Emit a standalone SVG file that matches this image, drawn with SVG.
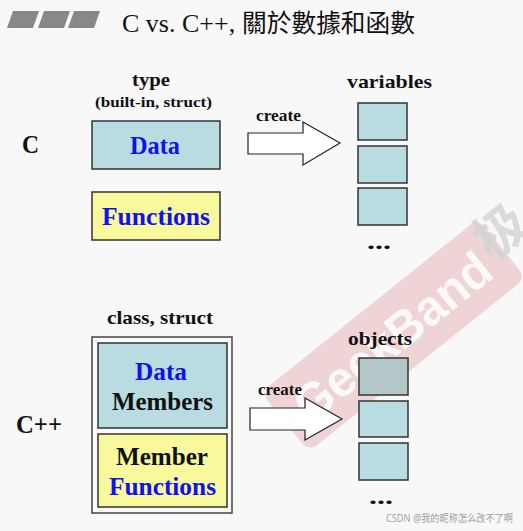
<svg xmlns="http://www.w3.org/2000/svg" width="523" height="531" viewBox="0 0 523 531">
  <style>
    .t { font-family: "Liberation Serif", "Times New Roman", serif; font-weight: bold; fill: #111; }
    .blue { fill: #1010f0; }
    .teal { fill: #b8dce0; stroke: #333; stroke-width: 1.5; }
    .yel { fill: #f8f89c; stroke: #333; stroke-width: 1.5; }
    .arrow { fill: #ffffff; stroke: #222; stroke-width: 1.2; stroke-linejoin: miter; }
    .bar { fill: #888888; }
  </style>
  <rect width="523" height="531" fill="#f8f8f8"/>

  <g id="title">
    <polygon class="bar" points="13,11 39,11 33,28 7,28"/>
    <polygon class="bar" points="44,11 70,11 64,28 38,28"/>
    <polygon class="bar" points="74,11 100,11 94,28 68,28"/>
    <text x="122" y="32" font-family="Liberation Serif, serif" font-size="26" fill="#111">C vs. C++, <tspan x="242" font-family="'Noto Sans CJK TC', 'Noto Sans CJK SC', sans-serif" font-size="25" textLength="173" lengthAdjust="spacingAndGlyphs">關於數據和函數</tspan></text>
  </g>

  <g id="label-c"><text class="t" x="22" y="153" font-size="25" textLength="17" lengthAdjust="spacingAndGlyphs">C</text></g>
  <g id="label-cpp"><text class="t" x="16" y="433" font-size="25" textLength="46" lengthAdjust="spacingAndGlyphs">C++</text></g>

  <g id="type-header">
    <text class="t" x="132" y="86" font-size="19" textLength="38" lengthAdjust="spacingAndGlyphs">type</text>
    <text class="t" x="95" y="107" font-size="15" textLength="117" lengthAdjust="spacingAndGlyphs">(built-in, struct)</text>
  </g>

  <g id="c-data">
    <rect class="teal" x="92" y="121" width="128" height="48"/>
    <text class="t blue" x="130" y="154" font-size="26" textLength="50" lengthAdjust="spacingAndGlyphs">Data</text>
  </g>
  <g id="c-functions">
    <rect class="yel" x="92" y="192" width="128" height="48"/>
    <text class="t blue" x="102" y="225" font-size="26" textLength="108" lengthAdjust="spacingAndGlyphs">Functions</text>
  </g>

  <g id="variables">
    <text class="t" x="347" y="88" font-size="19" textLength="85" lengthAdjust="spacingAndGlyphs">variables</text>
    <rect class="teal" x="358" y="103" width="49" height="37"/>
    <rect class="teal" x="358" y="146" width="49" height="37"/>
    <rect class="teal" x="358" y="188" width="49" height="37"/>
    <text class="t" x="367" y="249" font-size="20" textLength="24" lengthAdjust="spacingAndGlyphs">...</text>
  </g>

  <g id="class-struct">
    <text class="t" x="107" y="324" font-size="19" textLength="106" lengthAdjust="spacingAndGlyphs">class, struct</text>
    <rect x="92" y="337" width="140" height="176" fill="#fafafa" stroke="#444" stroke-width="1.5"/>
  </g>
  <g id="data-members">
    <rect class="teal" x="98" y="343" width="129" height="85"/>
    <text class="t blue" x="135" y="380" font-size="26" textLength="52" lengthAdjust="spacingAndGlyphs">Data</text>
    <text class="t" x="112" y="410" font-size="26" textLength="101" lengthAdjust="spacingAndGlyphs">Members</text>
  </g>
  <g id="member-functions">
    <rect class="yel" x="98" y="434" width="129" height="73"/>
    <text class="t" x="116" y="465" font-size="26" textLength="92" lengthAdjust="spacingAndGlyphs">Member</text>
    <text class="t blue" x="109" y="495" font-size="26" textLength="107" lengthAdjust="spacingAndGlyphs">Functions</text>
  </g>

  <g id="watermark">
    <g transform="translate(285,422) rotate(-38.7)">
      <rect x="0" y="-38" width="278" height="76" rx="10" fill="#c84646" fill-opacity="0.2"/>
      <text x="18" y="18" font-family="'Liberation Sans', Arial, sans-serif" font-weight="bold" font-size="50" fill="#ffffff" fill-opacity="0.85" textLength="238" lengthAdjust="spacingAndGlyphs">GeekBand</text>
    </g>
    <text x="0" y="0" transform="translate(492,262) rotate(-38.7)" font-family="'Noto Sans CJK SC', sans-serif" font-weight="bold" font-size="52" fill="#d2d2d2" fill-opacity="0.8">极</text>
  </g>

  <g id="objects">
    <text class="t" x="348" y="345" font-size="19" textLength="64" lengthAdjust="spacingAndGlyphs">objects</text>
    <rect class="teal" x="359" y="358" width="49" height="37" style="fill:#b3c6c8"/>
    <rect class="teal" x="359" y="401" width="49" height="36"/>
    <rect class="teal" x="359" y="443" width="49" height="37"/>
    <text class="t" x="369" y="504" font-size="20" textLength="24" lengthAdjust="spacingAndGlyphs">...</text>
  </g>

  <g id="connectors">
    <path class="arrow" d="M248,133 H303 V122 L340,143 L303,165 V154 H248 Z"/>
    <text class="t" x="256" y="121" font-size="16" textLength="45" lengthAdjust="spacingAndGlyphs">create</text>
    <path class="arrow" d="M250,408 H305 V398 L342,419 L305,440 V430 H250 Z"/>
    <text class="t" x="258" y="395" font-size="16" textLength="44" lengthAdjust="spacingAndGlyphs">create</text>
  </g>

  <g id="credit">
    <text x="386" y="522" font-family="'Noto Sans', 'Noto Sans CJK SC', sans-serif" font-size="10" fill="#a0a0a0" textLength="127" lengthAdjust="spacingAndGlyphs">CSDN @我的昵称怎么改不了啊</text>
  </g>
</svg>
